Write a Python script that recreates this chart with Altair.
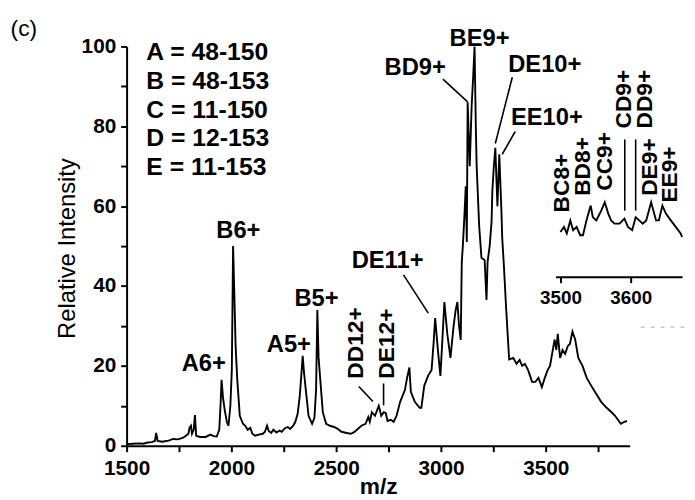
import altair as alt
import pandas as pd

# ---- main spectrum ----
mz = [1500, 1530, 1560, 1580, 1600, 1620, 1635, 1641, 1648, 1670, 1700, 1722, 1745, 1770,
      1783, 1795, 1800, 1807, 1812, 1820, 1826, 1832, 1850, 1877, 1900, 1915, 1930, 1942,
      1948, 1953, 1960, 1968, 1978, 1986, 1995, 2002, 2008, 2013, 2020, 2028, 2040, 2055,
      2066, 2078, 2090, 2100, 2113, 2130, 2150, 2160, 2170, 2178, 2190, 2200, 2215, 2230,
      2240, 2255, 2269, 2280, 2295, 2305, 2316, 2326, 2334, 2340, 2347, 2355, 2368, 2385,
      2396, 2404, 2410, 2416, 2424, 2436, 2452, 2470, 2490, 2505, 2525, 2550, 2570, 2585,
      2599, 2620, 2640, 2653, 2660, 2670, 2685, 2703, 2715, 2727, 2736, 2745, 2760, 2774,
      2788, 2805, 2828, 2838, 2849, 2856, 2875, 2898, 2906, 2920, 2938, 2955, 2965, 2972,
      2985, 2997, 3008, 3016, 3030, 3045, 3060, 3070, 3078, 3086, 3094, 3099, 3104, 3112,
      3118, 3123, 3127, 3137, 3146, 3153, 3160, 3166, 3170, 3182, 3193, 3208, 3217, 3222,
      3232, 3241, 3245, 3252, 3259, 3269, 3278, 3288, 3292, 3300, 3310, 3325, 3345, 3360,
      3375, 3387, 3400, 3415, 3425, 3434, 3450, 3465, 3481, 3495, 3509, 3520, 3530, 3542,
      3550, 3557, 3568, 3580, 3592, 3605, 3615, 3627, 3640, 3655, 3675, 3695, 3717, 3740,
      3764, 3790, 3811, 3830, 3858, 3875, 3887]
intensity = [0.4, 0.5, 0.6, 0.5, 0.8, 0.9, 1.2, 3.2, 1.2, 1.0, 1.3, 1.7, 1.6, 2.0,
             2.5, 3.0, 4.5, 5.0, 3.0, 4.0, 7.7, 2.5, 2.2, 2.2, 2.8, 2.4, 2.3, 4.0,
             10, 16.5, 12, 9, 6, 5, 10, 19, 50, 40, 25, 16.5, 7.5, 5.5,
             5, 4, 4.5, 3, 2.5, 2.8, 3, 3.5, 5, 3.7, 3.2, 4, 3.3, 3.8,
             3.5, 4.4, 4.7, 4.2, 5, 6, 8, 12.4, 18, 22.5, 18, 14, 7.5, 5.5,
             7, 14, 34, 22, 16.5, 8.4, 5.5, 5, 4.7, 4.3, 3.5, 3.2, 3, 3.4,
             4, 5, 5.5, 7.2, 6, 8.4, 7.5, 10, 7.5, 8.4, 8.2, 6.2, 6.5, 6,
             7.5, 11, 14, 17, 19.6, 13.5, 11, 9.5, 9.5, 15, 17.5, 19, 26, 32,
             24, 17.5, 28, 36, 28, 22, 30, 34, 36, 30, 26.5, 46, 50, 58,
             65, 51, 86, 70, 85, 92, 100, 80, 70, 55, 47, 46.5, 36.5, 46,
             50, 56, 64, 70, 74.6, 60, 73, 59, 52, 45, 35, 21.6, 22, 20.5,
             21.5, 20, 20.5, 19, 17.5, 16, 16, 17, 14.7, 17, 19, 20, 23, 26.6,
             24, 28, 22, 24, 23, 25, 25.5, 28.6, 26.6, 22, 20, 17, 15, 13,
             11, 9.5, 8.5, 7.5, 5.5, 6, 6.2]

# ---- inset spectrum ----
inset_mz = [3500, 3505, 3509, 3514, 3518, 3523, 3528, 3532, 3537, 3539, 3543, 3546, 3551,
            3558, 3563, 3568, 3572, 3577, 3584, 3591, 3596, 3602, 3607, 3612, 3617, 3622,
            3629, 3636, 3640, 3645, 3650, 3657, 3664, 3671, 3673]
inset_int = [19.0, 20.7, 18.5, 22.9, 19.6, 20.7, 17.9, 17.9, 22.9, 24.6, 27.9, 24.0, 22.9,
             26.2, 29.0, 25.2, 22.9, 21.8, 21.8, 23.5, 20.7, 19.6, 24.0, 22.9, 21.8, 22.9,
             29.0, 22.9, 22.9, 27.9, 25.2, 22.9, 20.7, 18.5, 17.3]

# ---- annotations ----
peak_labels = ["A6+", "B6+", "A5+", "B5+", "DE11+", "BD9+", "BE9+", "DE10+", "EE10+"]
peak_label_mz = [1868, 2033, 2274, 2406, 2745, 2877, 3184, 3495, 3505]
peak_label_int = [18.6, 52, 23.5, 34.9, 44.6, 92.8, 100.2, 93.6, 80.4]

vert_labels = ["DD12+", "DE12+"]
vert_label_mz = [2594, 2741]
vert_label_int = [16.8, 16.8]

leader_mz1 = [2608, 2726, 2821, 3009, 3340, 3354]
leader_int1 = [14.85, 15.6, 42.8, 91.8, 92.3, 78.7]
leader_mz2 = [2675, 2726, 2939, 3127, 3259, 3292]
leader_int2 = [11.1, 10.1, 33.2, 86.1, 75.7, 73]

inset_labels = ["BC8+", "BD8+", "CC9+", "CD9+", "DD9+", "DE9+", "EE9+"]
inset_label_mz = [3503, 3532, 3563, 3590, 3620, 3627, 3656]
inset_label_int = [25.6, 31.2, 32.9, 53.9, 53.9, 31.2, 28.9]

inset_line_mz = [3591.5, 3607]
inset_line_top = [50.2, 50.2]
inset_line_bottom = [26.2, 26.2]

# faint dashed mark at the right edge of the original figure
dash_mz = [3953]
dash_mz2 = [4175]
dash_int = [29.7]

legend_lines = ["A = 48-150", "B = 48-153", "C = 11-150", "D = 12-153", "E = 11-153"]

x_ticks = [1500, 1750, 2000, 2250, 2500, 2750, 3000, 3250, 3500, 3750]
y_ticks = [0, 10, 20, 30, 40, 50, 60, 70, 80, 90, 100]

FONT = "Liberation Sans"

spec = pd.DataFrame({"mz": mz, "intensity": intensity})
peaks = pd.DataFrame({"mz": peak_label_mz, "intensity": peak_label_int, "label": peak_labels})
vpeaks = pd.DataFrame({"mz": vert_label_mz, "intensity": vert_label_int, "label": vert_labels})
leaders = pd.DataFrame({"mz": leader_mz1, "intensity": leader_int1,
                        "mz2": leader_mz2, "intensity2": leader_int2})
dashes = pd.DataFrame({"mz": dash_mz, "mz2": dash_mz2, "intensity": dash_int})
dummy = pd.DataFrame({"k": [0]})

X = alt.X("mz:Q", title="m/z",
          scale=alt.Scale(domain=[1500, 3900], nice=False, zero=False),
          axis=alt.Axis(values=x_ticks, format="d",
                        labelExpr="datum.value % 500 === 0 ? datum.label : ''",
                        labelFlush=False, labelOverlap=False, labelPadding=6,
                        titleY=48, titleBaseline="alphabetic",
                        titleFontSize=23, titleFontWeight="bold"))
Y = alt.Y("intensity:Q", title="Relative Intensity",
          scale=alt.Scale(domain=[0, 100], nice=False),
          axis=alt.Axis(values=y_ticks, format="d",
                        labelExpr="datum.value % 20 === 0 ? datum.label : ''",
                        labelFlush=False, labelOverlap=False, labelPadding=5,
                        titleX=-60, titleY=204, titleBaseline="middle",
                        titleFontSize=24, titleFontWeight="normal"))

line = alt.Chart(spec).mark_line(color="black", strokeWidth=1.9).encode(x=X, y=Y)
ptext = alt.Chart(peaks).mark_text(font=FONT, fontSize=24, fontWeight="bold",
                                   align="center", baseline="alphabetic",
                                   color="black").encode(x=X, y=Y, text="label:N")
vtext = alt.Chart(vpeaks).mark_text(font=FONT, fontSize=23, fontWeight="bold",
                                    angle=270, align="left", baseline="middle",
                                    color="black").encode(x=X, y=Y, text="label:N")
lead = alt.Chart(leaders).mark_rule(color="black", strokeWidth=1.6).encode(
    x=X, y=Y, x2="mz2:Q", y2="intensity2:Q")
dash = alt.Chart(dashes).mark_rule(color="#bbbbbb", strokeWidth=1.2,
                                   strokeDash=[4, 6]).encode(x=X, x2="mz2:Q", y=Y)
legend = alt.Chart(dummy).mark_text(font=FONT, fontSize=25, fontWeight="bold",
                                    align="left", baseline="alphabetic", lineHeight=29,
                                    color="black").encode(
    x=alt.value(20), y=alt.value(14), text=alt.value(legend_lines))
clabel = alt.Chart(dummy).mark_text(font=FONT, fontSize=23, align="center",
                                    baseline="alphabetic", color="black").encode(
    x=alt.value(-104), y=alt.value(-11), text=alt.value("(c)"))

main = alt.layer(line, lead, dash, ptext, vtext, legend, clabel)

# ---- inset ----
ispec = pd.DataFrame({"imz": inset_mz, "iint": inset_int})
ilabels = pd.DataFrame({"imz": inset_label_mz, "iint": inset_label_int, "label": inset_labels})
ilines = pd.DataFrame({"imz": inset_line_mz, "iint": inset_line_top, "iint2": inset_line_bottom})

IX = alt.X("imz:Q", title=None,
           scale=alt.Scale(domain=[3493, 3673], range=[434, 562], nice=False, zero=False),
           axis=alt.Axis(values=[3500, 3600], format="d", orient="bottom", offset=-171,
                         labelFontSize=19, labelPadding=6, labelFlush=False))
IY = alt.Y("iint:Q", title=None,
           scale=alt.Scale(domain=[10, 30], range=[214.7, 154.7], nice=False, zero=False),
           axis=None)

iline = alt.Chart(ispec).mark_line(color="black", strokeWidth=1.9).encode(x=IX, y=IY)
itext = alt.Chart(ilabels).mark_text(font=FONT, fontSize=23, fontWeight="bold",
                                     angle=270, align="left", baseline="middle",
                                     color="black").encode(x=IX, y=IY, text="label:N")
irule = alt.Chart(ilines).mark_rule(color="black", strokeWidth=1.6).encode(
    x=IX, y=IY, y2="iint2:Q")

inset = alt.layer(iline, itext, irule)

chart = alt.layer(main, inset).resolve_scale(x="independent", y="independent").properties(
    width=509, height=404, autosize="none",
    padding={"left": 120, "top": 36, "right": 58, "bottom": 52},
).configure_view(stroke=None).configure_axis(
    domainColor="black", domainWidth=2, tickColor="black", tickWidth=2, tickSize=6,
    labelFont=FONT, labelFontSize=21, labelFontWeight="bold", labelColor="black",
    titleFont=FONT, titleColor="black", grid=False,
)

chart.save("out.html", embed_options={"renderer": "svg", "actions": False})
